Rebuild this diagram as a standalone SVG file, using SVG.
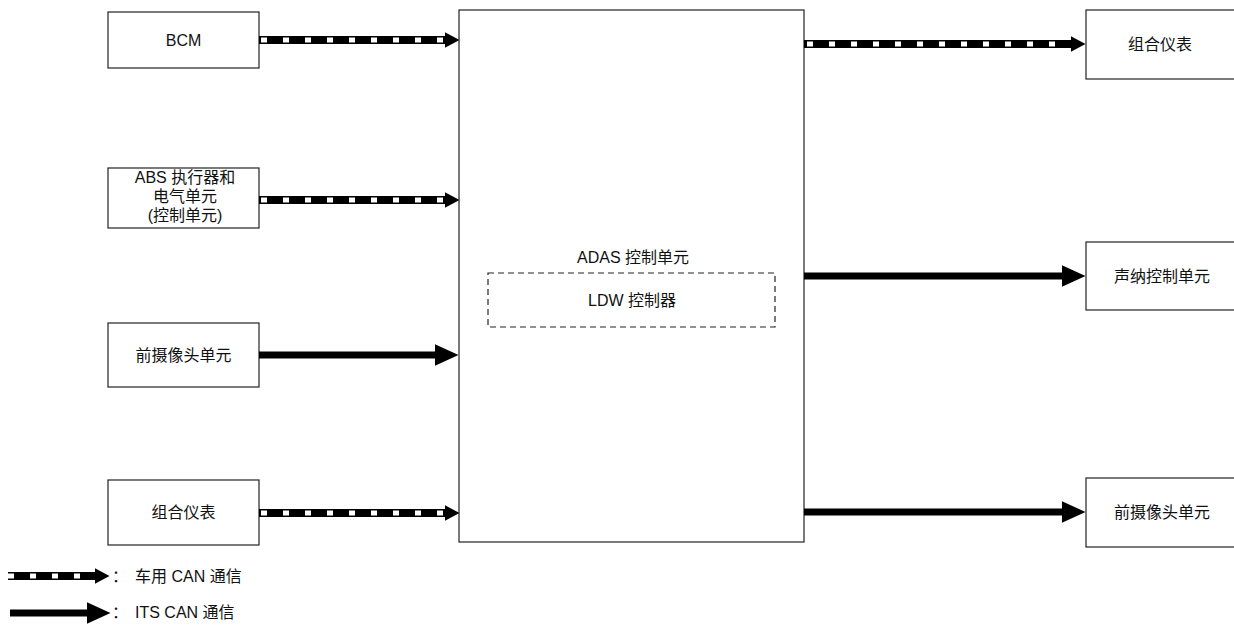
<svg xmlns="http://www.w3.org/2000/svg" width="1234" height="625" viewBox="0 0 1234 625">
<style>
  .box{fill:#fff;stroke:#222;stroke-width:1.2}
  .dbox{fill:none;stroke:#222;stroke-width:1.2;stroke-dasharray:6 4}
  text{font-family:"Liberation Sans","Noto Sans CJK SC",sans-serif;font-size:16px;fill:#111;text-anchor:middle}
  .lg{text-anchor:start;font-size:16px}
  .blk{fill:none;stroke:#000;stroke-width:8}
  .blks{fill:none;stroke:#000;stroke-width:7}
  .wht{fill:none;stroke:#fff;stroke-width:5;stroke-dasharray:6 16}
</style>
<defs>
  <marker id="hs" markerUnits="userSpaceOnUse" markerWidth="24" markerHeight="22" viewBox="0 0 24 22" refX="0.5" refY="11" orient="auto"><path d="M0,0 L24,11 L0,22 z" fill="#000"/></marker>
  <marker id="hd" markerUnits="userSpaceOnUse" markerWidth="15" markerHeight="16" viewBox="0 0 15 16" refX="0.5" refY="8" orient="auto"><path d="M0,0 L15,8 L0,16 z" fill="#000"/></marker>
</defs>
<rect width="1234" height="625" fill="#fff"/>

<g id="adas">
  <rect class="box" x="459" y="10" width="345" height="532"/>
  <text x="633" y="263">ADAS 控制单元</text>
  <rect class="dbox" x="488" y="273" width="287" height="54"/>
  <text x="632" y="306">LDW 控制器</text>
</g>

<g id="bcm"><rect class="box" x="108" y="12" width="151" height="56"/><text x="183.5" y="46">BCM</text></g>
<g id="abs"><rect class="box" x="108" y="168" width="151" height="60"/>
  <text x="185" y="183">ABS 执行器和</text><text x="185" y="202">电气单元</text><text x="185" y="221">(控制单元)</text></g>
<g id="front-camera-in"><rect class="box" x="108" y="323" width="151" height="64"/><text x="183.5" y="361">前摄像头单元</text></g>
<g id="meter-in"><rect class="box" x="108" y="480" width="151" height="65"/><text x="183.5" y="518">组合仪表</text></g>

<g id="meter-out"><rect class="box" x="1086" y="10" width="160" height="69"/><text x="1160" y="50">组合仪表</text></g>
<g id="sonar"><rect class="box" x="1086" y="242" width="160" height="68"/><text x="1162" y="282">声纳控制单元</text></g>
<g id="front-camera-out"><rect class="box" x="1086" y="478" width="160" height="69"/><text x="1162" y="518">前摄像头单元</text></g>

<g id="connectors">
  <path class="blk" d="M259,40 H445" marker-end="url(#hd)"/><path class="wht" d="M261,40 H445"/>
  <path class="blk" d="M259,200 H445" marker-end="url(#hd)"/><path class="wht" d="M261,200 H445"/>
  <path class="blks" d="M259,355 H435" marker-end="url(#hs)"/>
  <path class="blk" d="M259,513 H445" marker-end="url(#hd)"/><path class="wht" d="M261,513 H445"/>
  <path class="blk" d="M804,44 H1071" marker-end="url(#hd)"/><path class="wht" d="M807,44 H1068"/>
  <path class="blks" d="M804,276 H1062" marker-end="url(#hs)"/>
  <path class="blks" d="M804,512 H1062" marker-end="url(#hs)"/>
</g>

<g id="legend">
  <path class="blk" d="M8,576 H95" marker-end="url(#hd)"/><path class="wht" d="M8,576 H95"/>
  <path class="blks" d="M10,613 H87" marker-end="url(#hs)"/>
  <text class="lg" x="112" y="582">：<tspan x="135">车用 CAN 通信</tspan></text>
  <text class="lg" x="112" y="618">：<tspan x="135">ITS CAN 通信</tspan></text>
</g>
</svg>
